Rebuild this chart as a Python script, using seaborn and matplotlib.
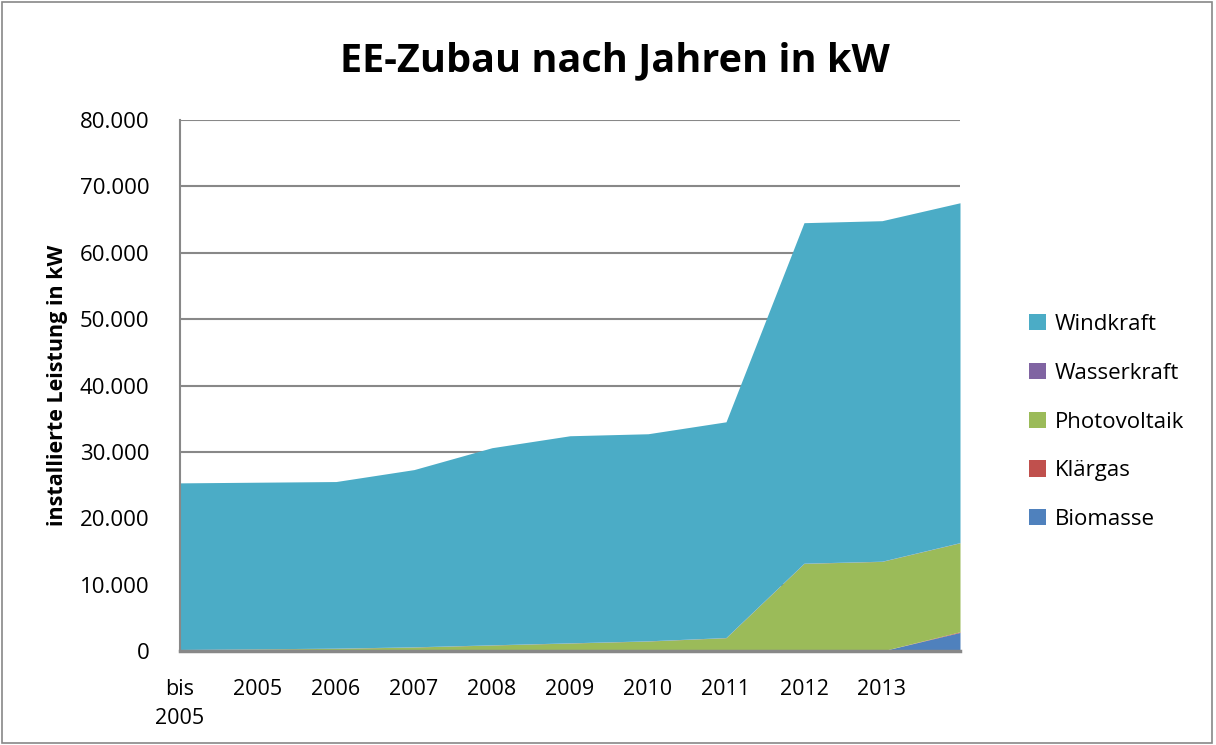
import matplotlib

matplotlib.use("Agg")
import matplotlib.pyplot as plt  # noqa: E402
import seaborn as sns  # noqa: E402
from matplotlib.patches import Rectangle  # noqa: E402
from matplotlib.ticker import FuncFormatter  # noqa: E402

# categories (the last one has no visible label in the source chart)
years = ["bis\n2005", "2005", "2006", "2007", "2008", "2009", "2010", "2011", "2012", "2013", ""]

# installed capacity in kW, stacked bottom -> top
biomasse = [0, 0, 0, 0, 0, 0, 0, 0, 0, 0, 2800]
klaergas = [0, 0, 0, 0, 0, 0, 0, 0, 0, 0, 100]
photovoltaik = [200, 300, 400, 600, 900, 1200, 1500, 2000, 13200, 13500, 13400]
wasserkraft = [30, 30, 30, 30, 30, 30, 30, 30, 30, 30, 30]
windkraft = [25100, 25100, 25100, 26700, 29700, 31200, 31200, 32500, 51300, 51300, 51200]

series = ["Biomasse", "Klärgas", "Photovoltaik", "Wasserkraft", "Windkraft"]
colors = ["#4F81BD", "#C0504D", "#9BBB59", "#8064A2", "#4BACC6"]

sns.set_theme(style="white")
plt.rcParams["font.family"] = ["Open Sans", "DejaVu Sans"]
plt.rcParams["text.color"] = "black"
plt.rcParams["xtick.color"] = "black"
plt.rcParams["ytick.color"] = "black"
plt.rcParams["axes.labelcolor"] = "black"

fig = plt.figure(figsize=(12.16, 7.45), dpi=100)
ax = fig.add_axes([180 / 1216, 1 - 651 / 745, 780 / 1216, 531 / 745])

x = list(range(len(years)))
ax.stackplot(x, biomasse, klaergas, photovoltaik, wasserkraft, windkraft,
             labels=series, colors=colors, zorder=2, lw=0)

ax.set_xlim(0, len(years) - 1)
ax.set_ylim(0, 80000)
ax.set_yticks(range(0, 80001, 10000))
ax.yaxis.set_major_formatter(FuncFormatter(lambda v, _: f"{int(v):,}".replace(",", ".")))
ax.set_xticks(x)
ax.set_xticklabels(years, fontsize=15.5, linespacing=1.5)
ax.tick_params(axis="y", labelsize=16, length=0, pad=22)
ax.tick_params(axis="x", length=0, pad=20)
ax.grid(axis="y", color="#888888", lw=1.5, zorder=1)

for side in ["top", "right"]:
    ax.spines[side].set_visible(False)
ax.spines["left"].set_color("#888888")
ax.spines["left"].set_linewidth(1.5)
ax.spines["bottom"].set_color("#888888")
ax.spines["bottom"].set_linewidth(2.5)
ax.spines["bottom"].set_zorder(3)

ax.set_ylabel("installierte Leistung in kW", fontsize=15.5, fontweight="bold")
ax.yaxis.set_label_coords(-0.1436, 0.5)
fig.text(0.5055, 0.918, "EE-Zubau nach Jahren in kW", ha="center", va="center",
         fontsize=28.5, fontweight="bold")

handles, labels = ax.get_legend_handles_labels()
fig.legend(handles[::-1], labels[::-1], loc="center left",
           bbox_to_anchor=(1009 / 1216, 1 - 422 / 745), frameon=False,
           fontsize=16, handlelength=0.75, handleheight=0.75, handletextpad=0.4,
           labelspacing=1.25)

fig.patches.append(Rectangle((0.002, 0.003), 0.995, 0.994, transform=fig.transFigure,
                             fill=False, edgecolor="#888888", lw=1.2))

fig.savefig("out.png", dpi=100)
plt.close(fig)
